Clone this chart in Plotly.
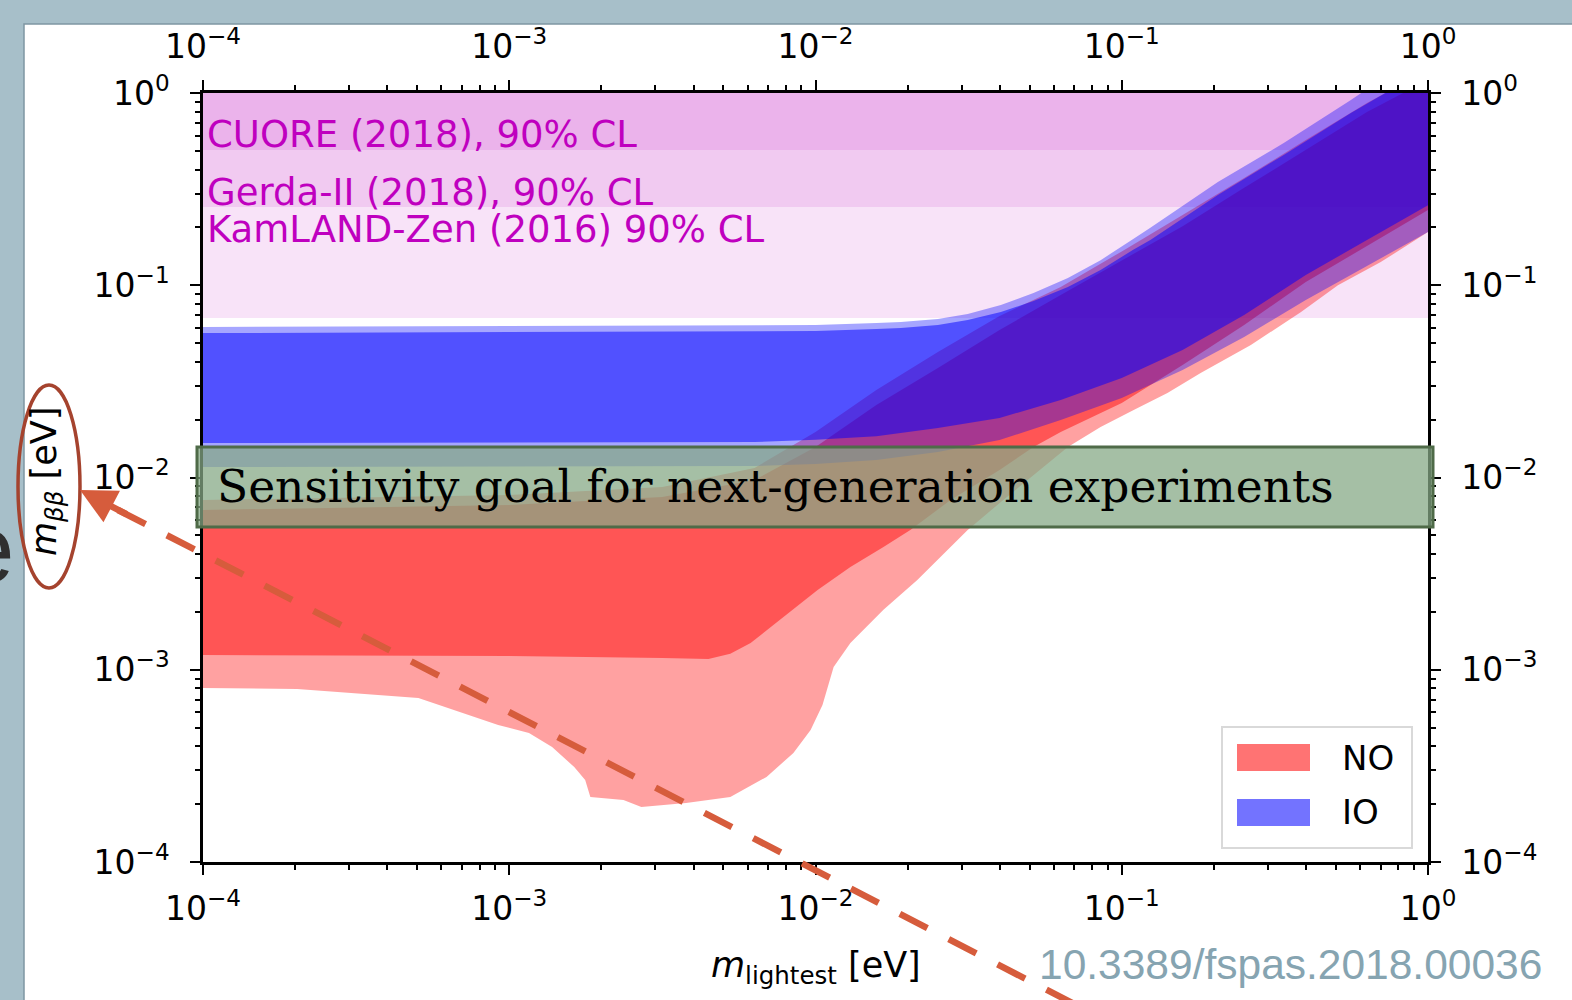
import plotly.graph_objects as go

# ---------------- data ----------------
# experimental 90% CL limits on m_bb [eV] (band from limit up to 1 eV)
limit_names = ["CUORE (2018), 90% CL", "Gerda-II (2018), 90% CL", "KamLAND-Zen (2016) 90% CL"]
limit_values = [0.505, 0.255, 0.0676]

# Inverted ordering (IO) - wide (light) band
io_light_top_m = [1e-4, 0.01, 0.0158, 0.0190, 0.0251, 0.0314, 0.0403, 0.0515, 0.0667, 0.0853, 0.109, 0.124, 0.206, 0.338, 0.560, 0.701, 1.0]
io_light_top = [0.0607, 0.0621, 0.0637, 0.0644, 0.0667, 0.0709, 0.0789, 0.0911, 0.109, 0.135, 0.174, 0.199, 0.344, 0.549, 0.920, 1.17, 1.67]
io_light_bot_m = [1e-4, 0.00632, 0.01, 0.0158, 0.0251, 0.0399, 0.0632, 0.1, 0.158, 0.251, 0.399, 0.632, 1.0]
io_light_bot = [0.01134, 0.01148, 0.01175, 0.01233, 0.01358, 0.01567, 0.0199, 0.0259, 0.0362, 0.0538, 0.0838, 0.126, 0.189]

# IO - narrow (dark) band
io_dark_top_m = [1e-4, 0.01, 0.0158, 0.0190, 0.0251, 0.0314, 0.0403, 0.0515, 0.0667, 0.0853, 0.109, 0.124, 0.206, 0.338, 0.560, 0.757, 1.0]
io_dark_top = [0.0564, 0.0578, 0.0592, 0.0599, 0.0621, 0.0659, 0.0726, 0.0828, 0.0979, 0.120, 0.153, 0.172, 0.295, 0.476, 0.787, 1.04, 1.40]
io_dark_bot_m = [1e-4, 0.00632, 0.01, 0.0158, 0.0251, 0.0399, 0.0632, 0.1, 0.158, 0.251, 0.399, 0.632, 1.0]
io_dark_bot = [0.0151, 0.0153, 0.0157, 0.0164, 0.0181, 0.0204, 0.0253, 0.0329, 0.0461, 0.0700, 0.113, 0.172, 0.261]

# Normal ordering (NO) - wide (light) band
no_light_top_m = [1e-4, 0.001, 0.00316, 0.00632, 0.01, 0.0158, 0.0251, 0.0399, 0.0632, 0.1, 0.158, 0.251, 0.399, 0.632, 1.0]
no_light_top = [0.00764, 0.00811, 0.00893, 0.0112, 0.01725, 0.0285, 0.0450, 0.0692, 0.098, 0.150, 0.232, 0.361, 0.569, 0.887, 1.32]
no_light_bot_m = [1e-4, 2.03e-4, 5.05e-4, 7.02e-4, 9.20e-4, 1.16e-3, 1.38e-3, 1.63e-3, 1.77e-3, 1.84e-3, 2.36e-3,
                  2.70e-3, 3.78e-3, 5.27e-3, 6.92e-3, 8.47e-3, 9.64e-3, 0.01054, 0.01146, 0.0130, 0.01667, 0.0215,
                  0.0276, 0.0314, 0.0403, 0.0515, 0.0667, 0.0853, 0.109, 0.141, 0.181, 0.264, 0.385, 0.508, 0.701, 1.0]
no_light_bot = [8.04e-4, 7.94e-4, 7.13e-4, 5.96e-4, 5.16e-4, 4.69e-4, 3.96e-4, 3.12e-4, 2.67e-4, 2.18e-4, 2.10e-4,
                1.93e-4, 2.03e-4, 2.18e-4, 2.77e-4, 3.69e-4, 4.86e-4, 6.56e-4, 1.033e-3, 1.377e-3, 2.05e-3, 2.93e-3,
                4.35e-3, 5.33e-3, 7.46e-3, 0.0103, 0.0144, 0.0183, 0.0224, 0.0275, 0.0350, 0.0489, 0.0726, 0.100, 0.132, 0.189]

# NO - narrow (dark) band
no_dark_top_m = [1e-4, 0.001, 0.00316, 0.00632, 0.01, 0.0158, 0.0251, 0.0399, 0.0632, 0.1, 0.158, 0.251, 0.399, 0.632, 1.0]
no_dark_top = [0.00678, 0.00719, 0.00792, 0.0097, 0.01441, 0.0238, 0.0371, 0.0585, 0.089, 0.135, 0.203, 0.321, 0.505, 0.796, 1.17]
no_dark_bot_m = [1e-4, 0.001, 0.00316, 0.00447, 0.00527, 0.00614, 0.00785, 0.01016, 0.0130, 0.01667, 0.0204, 0.0276, 0.0399,
                 0.0515, 0.0632, 0.1, 0.158, 0.251, 0.399, 0.632, 1.0]
no_dark_bot = [0.001193, 0.00118, 0.00115, 0.001137, 0.00121, 0.001377, 0.00188, 0.0026, 0.00342, 0.00435, 0.00533, 0.00764,
               0.01094, 0.01441, 0.01725, 0.0244, 0.0385, 0.0621, 0.104, 0.160, 0.246]

legend_labels = ["NO", "IO"]
major_ticks = [1e-4, 1e-3, 1e-2, 1e-1, 1e0]
tick_labels = ["10<sup>\u22124</sup>", "10<sup>\u22123</sup>", "10<sup>\u22122</sup>", "10<sup>\u22121</sup>", "10<sup>0</sup>"]
minor_ticks = [k * 10.0 ** e for e in range(-4, 0) for k in range(2, 10)]

# ---------------- layout geometry (pixels) ----------------
W, H = 1572, 1000
PL, PR, PT, PB = 203, 1428, 93, 862


def px(x):
    return (x - PL) / (PR - PL)


def py(y):
    return (PB - y) / (PB - PT)


MAG = "rgba(191,0,191,0.11)"

fig = go.Figure()


def band(top_m, top, bot_m, bot, color):
    fig.add_trace(go.Scatter(
        x=list(top_m) + list(bot_m)[::-1], y=list(top) + list(bot)[::-1],
        mode="lines", line=dict(width=0), fill="toself", fillcolor=color,
        hoverinfo="skip", showlegend=False))


for lim in limit_values:
    band([1e-4, 1.0], [1.0, 1.0], [1e-4, 1.0], [lim, lim], MAG)

band(no_light_top_m, no_light_top, no_light_bot_m, no_light_bot, "rgba(255,0,0,0.37)")
band(no_dark_top_m, no_dark_top, no_dark_bot_m, no_dark_bot, "rgba(255,0,0,0.47)")
band(io_light_top_m, io_light_top, io_light_bot_m, io_light_bot, "rgba(0,0,255,0.35)")
band(io_dark_top_m, io_dark_top, io_dark_bot_m, io_dark_bot, "rgba(0,0,255,0.515)")

# dummy trace so the mirrored axes render
fig.add_trace(go.Scatter(x=[1e-3], y=[1e-3], xaxis="x2", yaxis="y2", mode="markers",
                         marker=dict(opacity=0), hoverinfo="skip", showlegend=False))

tickfont = dict(family="DejaVu Sans", size=33, color="black")


def axis(**kw):
    d = dict(type="log", range=[-4, 0], showline=True, linecolor="black", linewidth=2.5,
             ticks="outside", ticklen=10, tickwidth=2, tickcolor="black",
             tickmode="array", tickvals=major_ticks, ticktext=tick_labels, tickfont=tickfont,
             minor=dict(tickmode="array", tickvals=minor_ticks, ticks="outside", ticklen=5,
                        tickwidth=1.5, tickcolor="black", showgrid=False),
             showgrid=False, zeroline=False, fixedrange=True)
    d.update(kw)
    return d


fig.update_layout(
    width=W, height=H,
    margin=dict(l=PL, r=W - PR, t=PT, b=H - PB, pad=0),
    paper_bgcolor="#a7bfc9", plot_bgcolor="white",
    showlegend=False, hovermode=False,
    xaxis=axis(ticklabelstandoff=6),
    yaxis=axis(ticklabelstandoff=14),
    xaxis2=axis(overlaying="x", side="top", anchor="y", ticklabelstandoff=9),
    yaxis2=axis(overlaying="y", side="right", anchor="x", ticklabelstandoff=14),
)

shapes = []
# white slide panel
shapes.append(dict(type="rect", xref="paper", yref="paper", layer="below",
                   x0=px(24), x1=px(1580), y0=py(1010), y1=py(24),
                   fillcolor="white", line=dict(color="#7f96a2", width=1.5)))
# sensitivity goal box
shapes.append(dict(type="rect", xref="paper", yref="paper",
                   x0=px(197), x1=px(1433), y0=py(527), y1=py(447),
                   fillcolor="rgba(134,168,134,0.74)", line=dict(color="#4f6b48", width=3)))
# legend box and patches
shapes.append(dict(type="rect", xref="paper", yref="paper",
                   x0=px(1222), x1=px(1412), y0=py(848), y1=py(727),
                   fillcolor="rgba(255,255,255,0.85)", line=dict(color="#d9d9d9", width=2)))
shapes.append(dict(type="rect", xref="paper", yref="paper",
                   x0=px(1237), x1=px(1310), y0=py(771), y1=py(744),
                   fillcolor="rgba(255,0,0,0.55)", line=dict(width=0)))
shapes.append(dict(type="rect", xref="paper", yref="paper",
                   x0=px(1237), x1=px(1310), y0=py(826), y1=py(799),
                   fillcolor="rgba(0,0,255,0.55)", line=dict(width=0)))
# ellipse around y title
shapes.append(dict(type="circle", xref="paper", yref="paper",
                   x0=px(18), x1=px(80), y0=py(588), y1=py(385),
                   line=dict(color="#a5432e", width=3.5)))
# dashed arrow line
shapes.append(dict(type="line", xref="paper", yref="paper",
                   x0=px(118), y0=py(510), x1=px(1080), y1=py(1007),
                   line=dict(color="#d65c3c", width=6.5, dash="31px,24px")))
fig.update_layout(shapes=shapes)

ann = []
label_y = [135, 192, 230]
for name, yy in zip(limit_names, label_y):
    ann.append(dict(text=name, xref="paper", yref="paper", x=px(205), y=py(yy),
                    xanchor="left", yanchor="middle", showarrow=False,
                    font=dict(family="DejaVu Sans", size=37, color="#bf00bf")))
ann.append(dict(text="Sensitivity goal for next-generation experiments", xref="paper", yref="paper",
                x=px(215), y=py(486), xanchor="left", yanchor="middle", showarrow=False,
                font=dict(family="DejaVu Serif", size=45.5, color="black")))
ann.append(dict(text="<i>m</i><sub>lightest</sub> [eV]", xref="paper", yref="paper",
                x=px(816), y=py(967), xanchor="center", yanchor="middle", showarrow=False,
                font=dict(family="DejaVu Sans", size=35, color="black")))
ann.append(dict(text="<i>m</i><sub><i>\u03b2\u03b2</i></sub> [eV]", xref="paper", yref="paper",
                x=px(47), y=py(482), xanchor="center", yanchor="middle", showarrow=False,
                textangle=-90, font=dict(family="DejaVu Sans", size=35, color="black")))
for lab, yy in zip(legend_labels, [758, 812]):
    ann.append(dict(text=lab, xref="paper", yref="paper", x=px(1340), y=py(yy),
                    xanchor="left", yanchor="middle", showarrow=False,
                    font=dict(family="DejaVu Sans", size=34, color="black")))
ann.append(dict(text="10.3389/fspas.2018.00036", xref="paper", yref="paper",
                x=px(1544), y=py(964), xanchor="right", yanchor="middle", showarrow=False,
                font=dict(family="Liberation Sans", size=42.5, color="#86a4b1")))
ann.append(dict(text="e", xref="paper", yref="paper", x=px(16), y=py(548),
                xanchor="right", yanchor="middle", showarrow=False,
                font=dict(family="Liberation Sans", size=96, color="#2f2f2f")))
# arrow head
ann.append(dict(text="", xref="paper", yref="paper", x=px(80), y=py(490),
                ax=48, ay=25, showarrow=True, arrowhead=2, arrowsize=1.1,
                arrowwidth=6.5, arrowcolor="#d65c3c", standoff=0))
fig.update_layout(annotations=ann)

fig.write_html("out.html", config={"displayModeBar": False},
               post_script="document.body.style.margin='0';")
